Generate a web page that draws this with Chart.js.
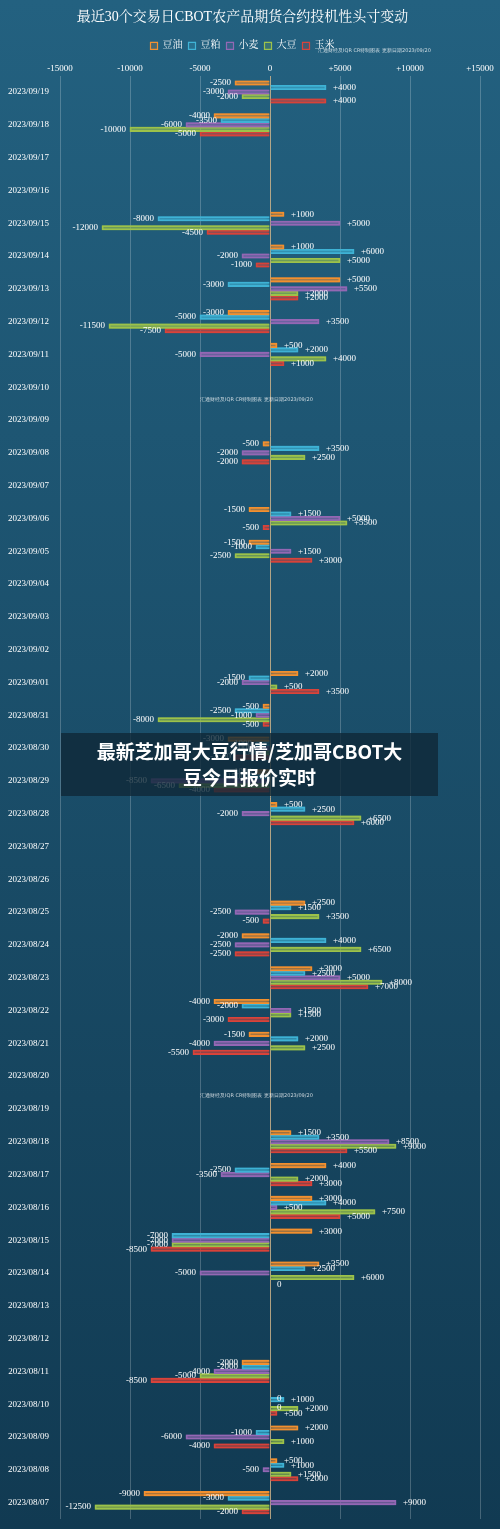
<!DOCTYPE html>
<html>
<head>
<meta charset="utf-8">
<script src="https://cdn.jsdelivr.net/npm/chart.js@4"></script>
<style>
  html, body { margin: 0; padding: 0; }
  body { width: 500px; height: 1529px; position: relative; background: linear-gradient(#236180, #113a52); overflow: hidden; }
  #wrap { position: absolute; left: 0; top: 0; width: 500px; height: 1529px; }
  .mark { position: absolute; font: 5px "DejaVu Sans", sans-serif; color: rgba(255,255,255,0.75); white-space: nowrap; }
  #banner { position: absolute; left: 61px; top: 733px; width: 377px; height: 63px; background: rgba(15,40,55,0.8);
    color: #fff; font: bold 19px "Noto Sans CJK SC", sans-serif; text-align: center; line-height: 26px; padding-top: 5px; box-sizing: border-box; }
</style>
</head>
<body>
<div id="wrap"><canvas id="chart"></canvas></div>
<div class="mark" style="left:318px;top:47px">汇通财经及IQR CR特制图表  更新日期2023/09/20</div>
<div class="mark" style="left:200px;top:396px">汇通财经及IQR CR特制图表  更新日期2023/09/20</div>
<div class="mark" style="left:200px;top:1092px">汇通财经及IQR CR特制图表  更新日期2023/09/20</div>
<div id="banner">最新芝加哥大豆行情/芝加哥CBOT大<br>豆今日报价实时</div>
<script>
// 日期(从新到旧)
const dates = ['2023/09/19','2023/09/18','2023/09/17','2023/09/16','2023/09/15','2023/09/14','2023/09/13','2023/09/12','2023/09/11','2023/09/10',
  '2023/09/09','2023/09/08','2023/09/07','2023/09/06','2023/09/05','2023/09/04','2023/09/03','2023/09/02','2023/09/01','2023/08/31',
  '2023/08/30','2023/08/29','2023/08/28','2023/08/27','2023/08/26','2023/08/25','2023/08/24','2023/08/23','2023/08/22','2023/08/21',
  '2023/08/20','2023/08/19','2023/08/18','2023/08/17','2023/08/16','2023/08/15','2023/08/14','2023/08/13','2023/08/12','2023/08/11',
  '2023/08/10','2023/08/09','2023/08/08','2023/08/07'];
const _ = null;
const soyOil   = [-2500,-4000,_,_,1000,1000,5000,-3000,500,_, _,-500,_,-1500,-1500,_,_,_,2000,-500, -3000,-1000,500,_,_,2500,-2000,3000,-4000,-1500, _,_,1500,4000,3000,3000,3500,_,_,-2000, 0,2000,500,-9000];
const soyMeal  = [4000,-3500,_,_,-8000,6000,-3000,-5000,2000,_, _,3500,_,1500,-1000,_,_,_,-1500,-2500, -1000,-1500,2500,_,_,1500,4000,2500,-2000,2000, _,_,3500,-2500,4000,-7000,2500,_,_,-2000, 1000,-1000,1000,-3000];
const wheat    = [-3000,-6000,_,_,5000,-2000,5500,3500,-5000,_, _,-2000,_,5000,1500,_,_,_,-2000,-1000, -1000,-8500,-2000,_,_,-2500,-2500,5000,1500,-4000, _,_,8500,-3500,500,-7000,-5000,_,_,-4000, 0,-6000,-500,9000];
const soybean  = [-2000,-10000,_,_,-12000,5000,2000,-11500,4000,_, _,2500,_,5500,-2500,_,_,_,500,-8000, -500,-6500,6500,_,_,3500,6500,8000,1500,2500, _,_,9000,2000,7500,-7000,6000,_,_,-5000, 2000,1000,1500,-12500];
const corn     = [4000,-5000,_,_,-4500,-1000,2000,-7500,1000,_, _,-2000,_,-500,3000,_,_,_,3500,-500, -2500,-4000,6000,_,_,-500,-2500,7000,-3000,-5500, _,_,5500,3000,5000,-8500,0,_,_,-8500, 500,-4000,2000,-2000];
const seriesNames = ['豆油','豆粕','小麦','大豆','玉米'];
const colors = ['#f39130','#3fb3d6','#9468b5','#9dc34b','#d9443b'];
const xTicks = [-15000,-10000,-5000,0,5000,10000,15000];

const serif = '"Liberation Serif", "Noto Serif CJK SC", "Noto Sans CJK SC", serif';

const labelPlugin = {
  id: 'barLabels',
  afterDatasetsDraw(chart) {
    const ctx = chart.ctx;
    ctx.save();
    ctx.font = '9px ' + serif;
    ctx.fillStyle = '#fff';
    ctx.textBaseline = 'middle';
    chart.data.datasets.forEach((ds, i) => {
      chart.getDatasetMeta(i).data.forEach((el, j) => {
        const v = ds.data[j];
        if (v === null) return;
        if (v >= 0) { ctx.textAlign = 'left'; ctx.fillText(v > 0 ? '+' + v : '0', el.x + 7, el.y + (v === 0 ? 3 : 0)); }
        else { ctx.textAlign = 'right'; ctx.fillText(String(v), el.x - 4, el.y); }
      });
    });
    ctx.restore();
  }
};

const glowPlugin = {
  id: 'glow',
  beforeDatasetDraw(chart, args) {
    chart.ctx.save();
    chart.ctx.shadowColor = colors[args.index];
    chart.ctx.shadowBlur = 4;
  },
  afterDatasetDraw(chart) { chart.ctx.restore(); }
};

new Chart(document.getElementById('chart'), {
  type: 'bar',
  data: {
    labels: dates,
    datasets: [soyOil, soyMeal, wheat, soybean, corn].map((d, i) => ({
      label: seriesNames[i],
      data: d,
      backgroundColor: colors[i] + '30',
      borderColor: colors[i],
      borderWidth: 1.2,
      barThickness: 4.5,
      skipNull: false
    }))
  },
  plugins: [labelPlugin, glowPlugin],
  options: {
    indexAxis: 'y',
    responsive: true,
    maintainAspectRatio: false,
    animation: false,
    layout: { padding: { left: 5, right: 20, top: 0, bottom: 10 } },
    plugins: {
      title: { display: true, text: '最近30个交易日CBOT农产品期货合约投机性头寸变动', color: '#fff',
        font: { family: serif, size: 14, weight: 'normal' }, padding: { top: 9, bottom: 9 } },
      legend: { labels: { color: '#fff', boxWidth: 7, boxHeight: 7, font: { family: serif, size: 10 }, padding: 6 } },
      tooltip: { enabled: false }
    },
    scales: {
      x: {
        position: 'top', min: -15000, max: 15000,
        afterBuildTicks: s => { s.ticks = xTicks.map(v => ({ value: v })); },
        ticks: { color: '#fff', font: { family: serif, size: 9 }, callback: v => v > 0 ? '+' + v : String(v), padding: 2 },
        grid: { color: c => c.tick && c.tick.value === 0 ? 'rgba(215,185,140,0.8)' : 'rgba(255,255,255,0.22)', drawTicks: false },
        border: { display: false }
      },
      y: {
        ticks: { color: '#fff', font: { family: serif, size: 9 }, padding: 3 },
        grid: { display: false },
        border: { display: false }
      }
    }
  }
});
</script>
</body>
</html>
